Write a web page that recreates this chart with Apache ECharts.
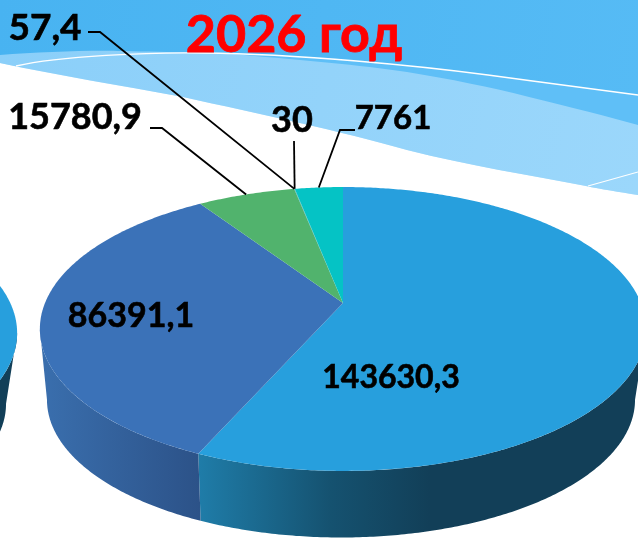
<!DOCTYPE html>
<html><head><meta charset="utf-8">
<style>html,body{margin:0;padding:0;background:#fff}#c{width:638px;height:540px}</style>
<script src="https://cdn.jsdelivr.net/npm/echarts@6/dist/echarts.min.js"></script>
</head><body><div id="c"></div>
<script>
// Data, clockwise from 12 o'clock
const sliceNames = ['a','b','c','d','e','f'];
const sliceValues = [143630.3, 86391.1, 15780.9, 57.4, 30, 7761];
const sliceLabels = ['143630,3','86391,1','15780,9','57,4','30','7761'];
const titleText = '2026 год';

// Styling and layout, kept apart from the data
const topColors = ['#279fdd','#3b72b8','#51b36d','#4aa8a0','#20b8b0','#05c3c5'];
const sideStops = [
  [[200,'#1f7ca8'],[330,'#155270'],[430,'#123f58'],[638,'#123f58']],
  [[40,'#3a6fae'],[200,'#2c5288']],
  [[200,'#2e7a4a']],[[200,'#2e7a4a']],[[200,'#2e7a4a']],[[200,'#058080']]
];
const labelSizes = [32,34,36,37,36,33];
const labelPos = [[391,378],[131,316],[75,117],[45,28],[292,120],[393,118]];
const leaderStart = [null,null,[[150,128],[162,128]],[[88,32],[100,32]],[[294,141]],[[355,130],[340,130]]];

// Perspective projection of the disc
const P = {cx:343, cy:303, A:298, B:137.2, k:0.183, depth:71.6, shrink:0.97, lowShift:-2};
const FRONT = [Math.acos(-P.k), 2*Math.PI-Math.acos(-P.k)];
function rim(a, ox, oy){
  const u = Math.sin(a), v = -Math.cos(a), w = 1 - P.k*v;
  return [P.cx + (ox||0) + P.A*u/w, P.cy + (oy||0) + P.B*v/w];
}
function low(p, ox, oy){
  const c = P.cx + (ox||0), d = P.cy + (oy||0);
  return [c + P.lowShift + (p[0]-c)*P.shrink, d + P.depth + (p[1]-d)*P.shrink];
}
const total = sliceValues.reduce((s,v)=>s+v,0);
function angles(i){
  let s = 0; for(let j=0;j<i;j++) s += sliceValues[j];
  return [s/total*2*Math.PI, (s+sliceValues[i])/total*2*Math.PI];
}
function arc(a0,a1,ox,oy){
  const n = Math.max(2, Math.ceil((a1-a0)/0.01)), pts=[];
  for(let i=0;i<=n;i++) pts.push(rim(a0+(a1-a0)*i/n,ox,oy));
  return pts;
}
function sideFill(stops){
  if(stops.length===1) return stops[0][1];
  const x0=stops[0][0], x1=stops[stops.length-1][0];
  return {type:'linear',global:true,x:x0,y:0,x2:x1,y2:0,
    colorStops:stops.map(s=>({offset:(s[0]-x0)/(x1-x0),color:s[1]}))};
}
const NB = {ox:-629, oy:4};

const renderSide = (params)=>{
  const i=params.dataIndex, [a0,a1]=angles(i);
  const s=Math.max(a0,FRONT[0]), e=Math.min(a1,FRONT[1]);
  if(e<=s) return;
  const top=arc(s,e);
  return {type:'polygon',shape:{points:top.concat(top.map(p=>low(p)).reverse())},
    style:{fill:sideFill(sideStops[i])}};
};
const renderTop = (params)=>{
  const i=params.dataIndex, [a0,a1]=angles(i);
  return {type:'polygon',shape:{points:[[P.cx,P.cy]].concat(arc(a0,a1))},
    style:{fill:topColors[i]}};
};
const renderLabel = (params)=>{
  const i=params.dataIndex, [a0,a1]=angles(i), kids=[];
  if(leaderStart[i]){
    const end = rim((a0+a1)/2);
    kids.push({type:'polyline',shape:{points:leaderStart[i].concat([end])},
      style:{stroke:'#000',lineWidth:1.8,fill:null}});
  }
  kids.push({type:'text',style:{x:labelPos[i][0],y:labelPos[i][1],text:sliceLabels[i],
    font:'700 '+labelSizes[i]+'px Lato, "Open Sans", sans-serif',fill:'#000',stroke:'#000',lineWidth:0.6,align:'center',verticalAlign:'middle'}});
  return {type:'group',children:kids};
};

// Neighbouring pie cut off by the left edge
const nbTop = arc(0,2*Math.PI,NB.ox,NB.oy);
const nbFront = arc(FRONT[0],FRONT[1],NB.ox,NB.oy);

const renderBackdrop = ()=>({type:'group',children:[
  {type:'path',shape:{pathData:'M0,0H638V200H0Z'},style:{fill:{type:'linear',global:true,x:0,y:0,x2:638,y2:100,colorStops:[{offset:0,color:'#48b3f1'},{offset:1,color:'#56bbf5'}]}}},
  {type:'path',shape:{pathData:'M16,66C60,56 150,52 203,53C300,54 420,66 488,75C540,82 600,90 638,95V200H0V66Z'},style:{fill:'#5fbff7'}},
  {type:'path',shape:{pathData:'M0,55C40,52 90,50 122,51C170,52 220,53 244,55C300,60 360,65 407,72C450,79 490,87 529,97C570,107 610,117 638,125V195C620,192 600,189 586,186C530,175 470,166 407,150C340,131 260,114 183,97C120,85 60,76 0,63Z'},
    style:{fill:{type:'linear',global:true,x:0,y:50,x2:638,y2:190,colorStops:[{offset:0,color:'#8bcff9'},{offset:1,color:'#9bd7fb'}]}}},
  {type:'path',shape:{pathData:'M0,63C60,76 120,85 183,97C260,114 340,131 407,150C470,166 530,175 586,186C600,189 620,192 638,195V200H0Z'},style:{fill:'#fff'}},
  {type:'path',shape:{pathData:'M16,66C60,56 150,52 203,53C300,54 420,66 488,75C540,82 600,90 638,95'},style:{fill:null,stroke:'#fff',lineWidth:1.3}},
  {type:'path',shape:{pathData:'M588,186L638,172'},style:{fill:null,stroke:'#fff',lineWidth:1.2}},
  {type:'polygon',shape:{points:nbFront.concat(nbFront.map(p=>low(p,NB.ox,NB.oy)).reverse())},style:{fill:'#123f58'}},
  {type:'polygon',shape:{points:nbTop},style:{fill:'#279fdd'}},
  {type:'text',style:{x:294,y:35,text:titleText,font:'700 52px Lato, "Open Sans", sans-serif',fill:'#ff0000',stroke:'#ff0000',lineWidth:0.8,align:'center',verticalAlign:'middle'}}
]});

const chart = echarts.init(document.getElementById('c'),null,{renderer:'canvas'});
const data = sliceValues.map((v,i)=>({name:sliceNames[i],value:[v]}));
chart.setOption({
  animation:false,
  backgroundColor:'#fff',
  series:[
    {type:'custom',coordinateSystem:'none',z:1,renderItem:renderBackdrop,data:[[0]],silent:true},
    {type:'custom',coordinateSystem:'none',z:2,renderItem:renderSide,data,silent:true},
    {type:'custom',coordinateSystem:'none',z:3,renderItem:renderTop,data,silent:true},
    {type:'custom',coordinateSystem:'none',z:4,renderItem:renderLabel,data,silent:true}
  ]
});
</script></body></html>
